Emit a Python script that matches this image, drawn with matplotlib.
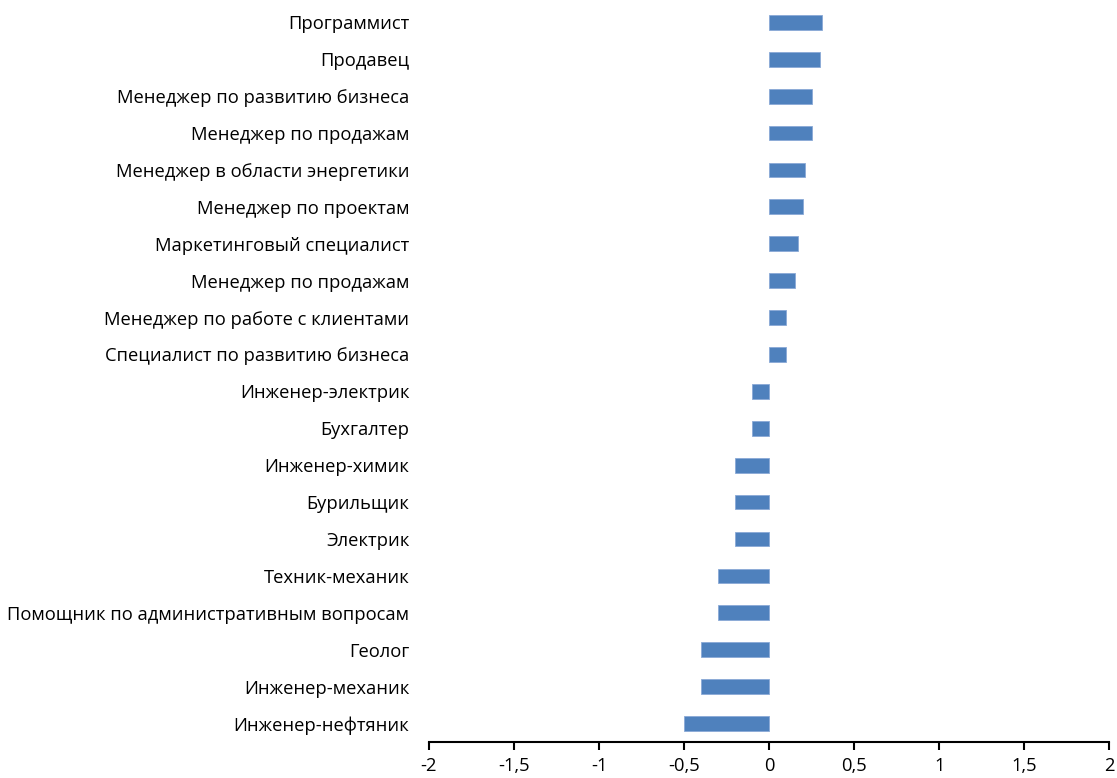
import matplotlib.pyplot as plt
from matplotlib.ticker import FuncFormatter

# professions, top to bottom
labels = [
    'Программист',
    'Продавец',
    'Менеджер по развитию бизнеса',
    'Менеджер по продажам',
    'Менеджер в области энергетики',
    'Менеджер по проектам',
    'Маркетинговый специалист',
    'Менеджер по продажам',
    'Менеджер по работе с клиентами',
    'Специалист по развитию бизнеса',
    'Инженер-электрик',
    'Бухгалтер',
    'Инженер-химик',
    'Бурильщик',
    'Электрик',
    'Техник-механик',
    'Помощник по административным вопросам',
    'Геолог',
    'Инженер-механик',
    'Инженер-нефтяник',
]
values = [0.31, 0.30, 0.25, 0.25, 0.21, 0.20, 0.17, 0.15, 0.10, 0.10,
          -0.1, -0.1, -0.2, -0.2, -0.2, -0.3, -0.3, -0.4, -0.4, -0.5]
xticks = [-2, -1.5, -1, -0.5, 0, 0.5, 1, 1.5, 2]

plt.rcParams['font.family'] = ['Open Sans', 'DejaVu Sans']

fig = plt.figure(figsize=(11.17, 7.78), dpi=100)
ax = fig.add_axes([0.384, 0.0463, 0.609, 0.9487])

n = len(labels)
ypos = list(range(n - 1, -1, -1))
ax.barh(ypos, values, height=0.4, color='#4F81BD', edgecolor='#8AA9D6', linewidth=0.6)

ax.set_ylim(-0.5, n - 0.5)
ax.set_xlim(-2, 2)
ax.set_yticks(ypos)
ax.set_yticklabels(labels, fontsize=13.2)
ax.set_xticks(xticks)
ax.xaxis.set_major_formatter(FuncFormatter(lambda v, p: ('%g' % v).replace('.', ',')))
ax.tick_params(axis='x', labelsize=13.2, length=6, width=1.5, direction='out', pad=5)
ax.tick_params(axis='y', length=0, pad=14)

for s in ['left', 'right', 'top']:
    ax.spines[s].set_visible(False)
ax.spines['bottom'].set_linewidth(1.5)

fig.savefig('out.png', dpi=100)
